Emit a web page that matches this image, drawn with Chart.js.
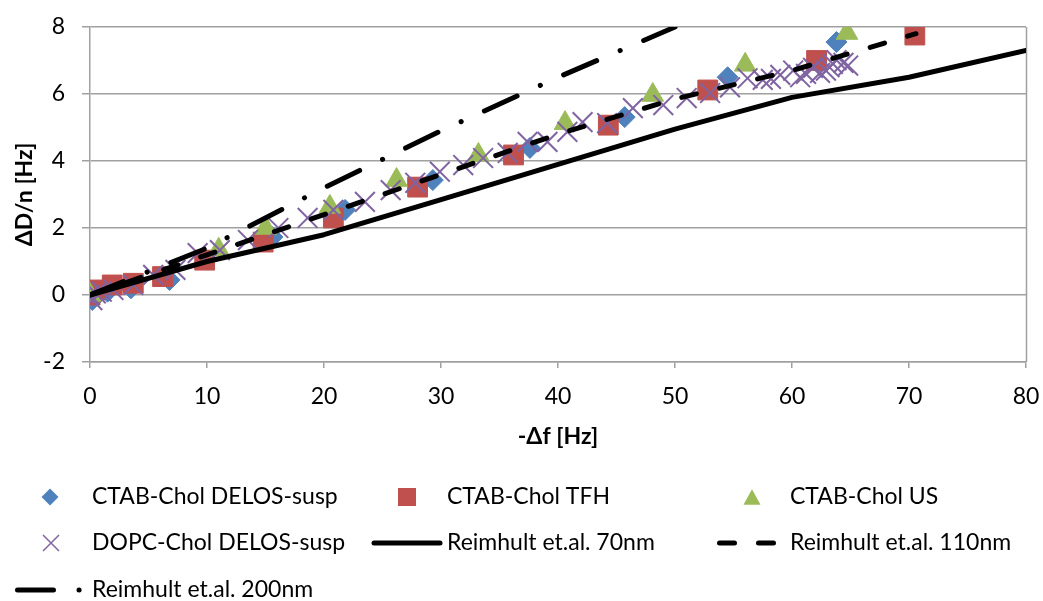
<!DOCTYPE html>
<html>
<head>
<meta charset="utf-8">
<script src="https://cdn.jsdelivr.net/npm/chart.js@4/dist/chart.umd.min.js"></script>
<style>
  html, body { margin: 0; padding: 0; background: #fff; }
</style>
</head>
<body>
<canvas id="chart" width="1043" height="601"></canvas>
<script>
// -Δf [Hz] / ΔD/n [Hz]
const ctabDelosF = [0, 0.2, 1.5, 3.5, 6.8, 15.6, 21.8, 29.3, 37.6, 45.7, 54.5, 63.8];
const ctabDelosD = [0, -0.15, 0.1, 0.2, 0.45, 1.73, 2.54, 3.43, 4.39, 5.31, 6.5, 7.55];

const ctabTfhF = [0, 0.4, 1.9, 3.7, 6.2, 9.8, 14.8, 20.8, 28.0, 36.2, 44.3, 52.8, 62.1, 70.5];
const ctabTfhD = [0, 0.15, 0.3, 0.35, 0.55, 1.04, 1.58, 2.3, 3.22, 4.18, 5.07, 6.12, 7.0, 7.76];

const ctabUsF = [0, 11, 15, 20.5, 26.2, 33.2, 40.6, 48.1, 56, 64.7];
const ctabUsD = [0, 1.35, 2.0, 2.63, 3.43, 4.18, 5.13, 5.97, 6.87, 7.82];

const dopcDelosF = [0, 0.2, 0.5, 1, 2, 3.7, 5.4, 7.3, 9.2, 11.1, 13.5, 16.1, 18.6, 20.8, 23.5, 25.7,
  27.8, 29.9, 31.9, 33.6, 35.7, 37.4, 39.1, 40.8, 42.1, 44.2, 46.4, 49, 51, 53, 54.7, 56.2, 57.5,
  58.2, 59, 60.1, 60.7, 61.2, 61.8, 62.4, 62.9, 63.2, 63.5, 63.8, 64.4, 64.8];
const dopcDelosD = [0, -0.15, 0.05, 0.1, 0.15, 0.3, 0.6, 0.75, 1.25, 1.34, 1.64, 2.0, 2.3, 2.54, 2.78, 3.13,
  3.35, 3.68, 3.88, 4.09, 4.24, 4.57, 4.57, 4.87, 5.16, 5.13, 5.58, 5.67, 5.88, 6.03, 6.2, 6.47, 6.42,
  6.45, 6.57, 6.7, 6.5, 6.6, 6.78, 6.63, 6.7, 6.8, 6.9, 7.01, 6.93, 6.85];

const reim70F = [0, 10, 20, 30, 40, 50, 60, 70, 80];
const reim70D = [0, 1.0, 1.8, 2.85, 3.9, 4.95, 5.9, 6.5, 7.3];

const reim110F = [0, 10, 20, 30, 40, 50, 60, 70.6];
const reim110D = [0, 1.2, 2.4, 3.6, 4.8, 5.85, 6.7, 7.8];

const reim200F = [0, 10, 20, 30, 40, 50];
const reim200D = [0, 1.4, 3.2, 4.9, 6.5, 8.0];

const seriesNames = ['CTAB-Chol DELOS-susp', 'CTAB-Chol TFH', 'CTAB-Chol US', 'DOPC-Chol DELOS-susp',
  'Reimhult et.al. 70nm', 'Reimhult et.al. 110nm', 'Reimhult et.al. 200nm'];

const xMin = 0, xMax = 80, xStep = 10;
const yMin = -2, yMax = 8, yStep = 2;

const BLUE = '#4F81BD', RED = '#C0504D', GREEN = '#9BBB59', PURPLE = '#8064A2';
const AXIS = '#a0a0a0';
const FONT = 'Lato, "Open Sans", sans-serif';
const FSIZE = 23;
const DASH110 = [15, 24];
const DASH200 = [36, 25.5, 0.1, 25.5];

const pts = (xs, ys) => xs.map((x, i) => ({ x, y: ys[i] }));

const datasets = [
  { label: seriesNames[0], data: pts(ctabDelosF, ctabDelosD), pointStyle: 'rectRot', pointRadius: 10.5,
    backgroundColor: BLUE, borderColor: BLUE, borderWidth: 1 },
  { label: seriesNames[1], data: pts(ctabTfhF, ctabTfhD), pointStyle: 'rect', pointRadius: 14,
    backgroundColor: RED, borderColor: RED, borderWidth: 1 },
  { label: seriesNames[2], data: pts(ctabUsF, ctabUsD), pointStyle: 'triangle', pointRadius: 12.5,
    backgroundColor: GREEN, borderColor: GREEN, borderWidth: 1 },
  { label: seriesNames[3], data: pts(dopcDelosF, dopcDelosD), pointStyle: 'crossRot', pointRadius: 14,
    backgroundColor: PURPLE, borderColor: PURPLE, borderWidth: 2 },
  { label: seriesNames[4], data: pts(reim70F, reim70D), showLine: true, pointRadius: 0,
    borderColor: '#000', borderWidth: 5, borderCapStyle: 'round', borderJoinStyle: 'round' },
  { label: seriesNames[5], data: pts(reim110F, reim110D), showLine: true, pointRadius: 0,
    borderColor: '#000', borderWidth: 5, borderCapStyle: 'round', borderDash: DASH110 },
  { label: seriesNames[6], data: pts(reim200F, reim200D), showLine: true, pointRadius: 0,
    borderColor: '#000', borderWidth: 5, borderCapStyle: 'round', borderDash: DASH200 }
];
// excel draws later series on top
datasets.forEach((d, i) => { d.order = datasets.length - i; d.pointHoverRadius = d.pointRadius; });

function marker(ctx, kind, x, y, s, color) {
  ctx.save();
  ctx.fillStyle = color;
  ctx.strokeStyle = color;
  ctx.beginPath();
  if (kind === 'diamond') {
    ctx.moveTo(x - s, y); ctx.lineTo(x, y - s); ctx.lineTo(x + s, y); ctx.lineTo(x, y + s);
    ctx.closePath(); ctx.fill();
  } else if (kind === 'square') {
    ctx.rect(x - s, y - s, 2 * s, 2 * s); ctx.fill();
  } else if (kind === 'triangle') {
    ctx.moveTo(x, y - s * 0.9); ctx.lineTo(x + s, y + s * 0.9); ctx.lineTo(x - s, y + s * 0.9);
    ctx.closePath(); ctx.fill();
  } else if (kind === 'cross') {
    ctx.lineWidth = 1.5;
    ctx.moveTo(x - s, y - s); ctx.lineTo(x + s, y + s);
    ctx.moveTo(x + s, y - s); ctx.lineTo(x - s, y + s);
    ctx.stroke();
  }
  ctx.restore();
}

function lineSample(ctx, x1, x2, y, dash) {
  ctx.save();
  ctx.strokeStyle = '#000';
  ctx.lineWidth = 5;
  ctx.lineCap = 'round';
  ctx.setLineDash(dash || []);
  ctx.beginPath();
  ctx.moveTo(x1, y);
  ctx.lineTo(x2, y);
  ctx.stroke();
  ctx.restore();
}

const legendBelow = {
  id: 'legendBelow',
  afterDraw(chart) {
    const ctx = chart.ctx;
    const rows = [497, 543, 590];
    const cols = [92, 447, 790];
    const items = [
      { col: 0, row: 0, draw: () => marker(ctx, 'diamond', 50, rows[0], 8.5, BLUE) },
      { col: 1, row: 0, draw: () => marker(ctx, 'square', 407, rows[0], 9, RED) },
      { col: 2, row: 0, draw: () => marker(ctx, 'triangle', 752, rows[0], 8.5, GREEN) },
      { col: 0, row: 1, draw: () => marker(ctx, 'cross', 51, rows[1], 8, PURPLE) },
      { col: 1, row: 1, draw: () => lineSample(ctx, 374, 440, rows[1]) },
      { col: 2, row: 1, draw: () => lineSample(ctx, 719.5, 776, rows[1], DASH110) },
      { col: 0, row: 2, draw: () => lineSample(ctx, 17.5, 82, rows[2], DASH200) }
    ];
    ctx.save();
    ctx.font = FSIZE + 'px ' + FONT;
    ctx.fillStyle = '#000';
    ctx.textBaseline = 'middle';
    ctx.textAlign = 'left';
    items.forEach((it, i) => {
      it.draw();
      ctx.fillText(seriesNames[i], cols[it.col], rows[it.row]);
    });
    ctx.restore();
  }
};

const plotFrame = {
  id: 'plotFrame',
  beforeDatasetsDraw(chart) {
    const { ctx, chartArea } = chart;
    ctx.save();
    ctx.strokeStyle = AXIS;
    ctx.lineWidth = 1.5;
    ctx.beginPath();
    ctx.moveTo(Math.round(chartArea.right) + 0.5, chartArea.top);
    ctx.lineTo(Math.round(chartArea.right) + 0.5, chartArea.bottom);
    ctx.stroke();
    ctx.restore();
  }
};

new Chart(document.getElementById('chart'), {
  type: 'scatter',
  data: { datasets },
  plugins: [plotFrame, legendBelow],
  options: {
    responsive: false,
    animation: false,
    events: [],
    layout: { padding: { top: 27, right: 17, left: 0, bottom: 0 } },
    plugins: {
      legend: { display: false },
      tooltip: { enabled: false }
    },
    scales: {
      x: {
        type: 'linear',
        min: xMin, max: xMax,
        afterFit(scale) { scale.height = 239; scale.paddingLeft = 0; scale.paddingRight = 0; },
        ticks: { stepSize: xStep, color: '#000', padding: 15, font: { family: FONT, size: FSIZE } },
        grid: { drawOnChartArea: false, drawTicks: true, tickLength: 6, color: AXIS, lineWidth: 1.5 },
        border: { color: AXIS, width: 1.5 },
        title: { display: true, text: '-Δf [Hz]', color: '#000',
          font: { family: FONT, size: FSIZE, weight: 'bold' }, padding: { top: 4, bottom: 151 } }
      },
      y: {
        type: 'linear',
        min: yMin, max: yMax,
        afterFit(scale) { scale.width = 90; scale.paddingTop = 0; scale.paddingBottom = 0; },
        ticks: { stepSize: yStep, color: '#000', padding: 17, font: { family: FONT, size: FSIZE } },
        grid: { color: AXIS, lineWidth: 1.5, drawTicks: true, tickLength: 8 },
        border: { color: AXIS, width: 1.5 },
        title: { display: true, text: 'ΔD/n [Hz]', color: '#000',
          font: { family: FONT, size: FSIZE, weight: 'bold' }, padding: { top: 11, bottom: 4 } }
      }
    }
  }
});
</script>
</body>
</html>
